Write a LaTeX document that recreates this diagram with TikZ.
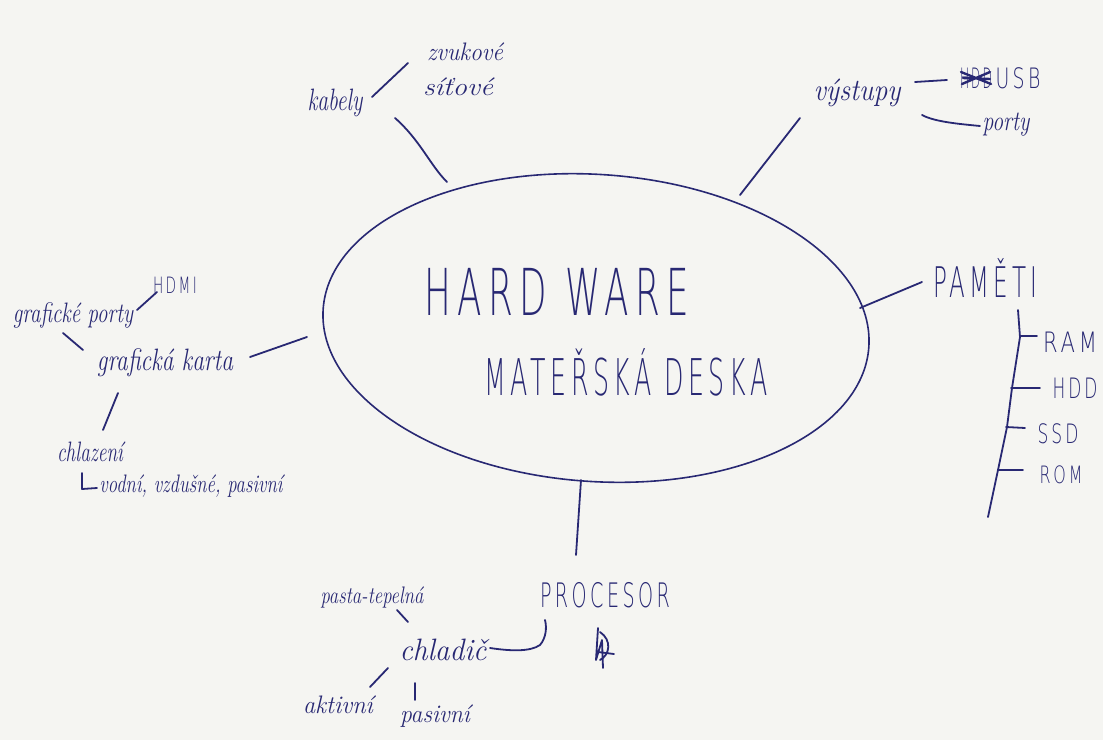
\documentclass[tikz,border=0pt]{standalone}
\usepackage{fontspec}
\usepackage{graphicx}
\usetikzlibrary{shapes.geometric}
\newfontfamily\printhand[LetterSpace=18]{DejaVu Sans ExtraLight}
\definecolor{ink}{RGB}{40,40,115}
\definecolor{paper}{RGB}{245,245,242}
% one drawing unit of the sheet
\newlength\pxu
\setlength\pxu{0.25mm}
% stretch a word to a given width, keeping its height
\newcommand{\fitpx}[2]{\resizebox{#1\pxu}{\height}{#2}}
\tikzset{
  pen/.style={draw=ink, line width=0.45mm, line cap=round, line join=round},
  caps/.style={text=ink, inner sep=0pt, anchor=base, font=\printhand\fontsize{#1}{#1}\selectfont},
  hand/.style={text=ink, inner sep=0pt, anchor=base, font=\itshape\fontsize{#1}{#1}\selectfont},
}
\begin{document}
\begin{tikzpicture}[x=0.25mm, y=-0.25mm]
\useasboundingbox[fill=paper] (0,0) rectangle (1103,740);

% central topic
\node[draw=ink, line width=0.4mm, ellipse, minimum width=547\pxu, minimum height=307\pxu,
      rotate=-4] (mb) at (596,328) {};
\node[caps=46] (hw) at (557,315) {\fitpx{265}{HARD WARE}};
\node[caps=36] (md) at (626,395) {\fitpx{283}{MATEŘSKÁ DESKA}};

% cables
\node[hand=22] (kab) at (335,110) {\fitpx{55}{kabely}};
\node[hand=18] (zvuk) at (465,60) {\fitpx{76}{zvukové}};
\node[hand=18] (sit) at (458,95) {\fitpx{70}{síťové}};
\coordinate (kabA) at (372,97);   \coordinate (kabB) at (408,63);
\coordinate (kabC) at (395,118);  \coordinate (kabD) at (447,182);
\draw[pen] (kabA) -- (kabB);
\draw[pen] (kabC) .. controls (420,140) and (430,165) .. (kabD);

% outputs
\node[hand=22] (vys) at (857,100) {\fitpx{87}{výstupy}};
\node[caps=20] (hdd0) at (976,88) {\fitpx{32}{HDD}};
\node[caps=20] (usb) at (1018,88) {\fitpx{45}{USB}};
\node[hand=20] (port) at (1006,130) {\fitpx{47}{porty}};
\coordinate (vysA) at (800,118);  \coordinate (vysB) at (740,195);
\coordinate (usbA) at (915,82);   \coordinate (usbB) at (947,80);
\coordinate (porA) at (922,115);  \coordinate (porB) at (980,126);
\draw[pen] (vysA) -- (vysB);
\draw[pen] (usbA) -- (usbB);
\draw[pen] (porA) .. controls (935,122) and (960,124) .. (porB);
\draw[pen, line width=0.6mm] (961,72) -- (991,84) (962,84) -- (990,72) (963,78) -- (990,79);

% graphics card
\node[hand=20] (gport) at (73,322) {\fitpx{120}{grafické porty}};
\node[caps=16] (hdmi) at (175,293) {\fitpx{44}{HDMI}};
\node[hand=22] (gk) at (165,370) {\fitpx{136}{grafická karta}};
\node[hand=20] (chz) at (90,461) {\fitpx{66}{chlazení}};
\node[hand=18] (druhy) at (191,492) {\fitpx{183}{vodní, vzdušné, pasivní}};
\coordinate (hdA) at (137,310);  \coordinate (hdB) at (157,292);
\coordinate (gpA) at (63,333);   \coordinate (gpB) at (83,350);
\coordinate (gkA) at (250,357);  \coordinate (gkB) at (307,337);
\coordinate (chA) at (118,393);  \coordinate (chB) at (103,430);
\coordinate (lA) at (82,473);    \coordinate (lB) at (97,488);
\draw[pen] (hdA) -- (hdB);
\draw[pen] (gpA) -- (gpB);
\draw[pen] (gkA) -- (gkB);
\draw[pen] (chA) -- (chB);
\draw[pen] (lA) -- (82,489) -- (lB);

% memories
\node[caps=30] (pam) at (985,297) {\fitpx{104}{PAMĚTI}};
\node[caps=20] (ram) at (1070,352) {\fitpx{54}{RAM}};
\node[caps=20] (hdd) at (1075,398) {\fitpx{45}{HDD}};
\node[caps=19] (ssd) at (1058,443) {\fitpx{41}{SSD}};
\node[caps=17] (rom) at (1061,483) {\fitpx{43}{ROM}};
\coordinate (pmA) at (860,308);   \coordinate (pmB) at (922,282);
\coordinate (trA) at (1018,310);  \coordinate (trB) at (988,517);
\draw[pen] (pmA) -- (pmB);
\draw[pen] (trA) -- (1020,337) -- (1012,388) -- (1007,427) -- (998,470) -- (trB);
\draw[pen] (1020,336) -- (1037,336);
\draw[pen] (1011,388) -- (1040,388);
\draw[pen] (1006,427) -- (1025,428);
\draw[pen] (998,470) -- (1023,470);

% processor
\node[caps=24] (cpu) at (605,607) {\fitpx{130}{PROCESOR}};
\node[hand=22] (chl) at (443,660) {\fitpx{87}{chladič}};
\node[hand=17] (pasta) at (372,603) {\fitpx{103}{pasta-tepelná}};
\node[hand=18] (akt) at (338,713) {\fitpx{70}{aktivní}};
\node[hand=18] (pas) at (435,722) {\fitpx{70}{pasivní}};
\coordinate (cpA) at (581,480);  \coordinate (cpB) at (576,555);
\coordinate (hkA) at (490,648);  \coordinate (hkB) at (545,620);
\coordinate (paA) at (397,610);  \coordinate (paB) at (408,622);
\coordinate (akA) at (370,687);  \coordinate (akB) at (388,668);
\coordinate (psA) at (415,683);  \coordinate (psB) at (415,700);
\draw[pen] (cpA) -- (cpB);
\draw[pen] (hkA) .. controls (510,651) and (530,652) .. (540,645) .. controls (546,638) and (547,628) .. (hkB);
\draw[pen] (paA) -- (paB);
\draw[pen] (akA) -- (akB);
\draw[pen] (psA) -- (psB);
\draw[pen, line width=0.45mm] (598,628) -- (596,660) -- (602,640) -- (603,668)
      (600,632) .. controls (612,640) and (610,655) .. (600,660) (598,652) -- (614,654);
\end{tikzpicture}
\end{document}
